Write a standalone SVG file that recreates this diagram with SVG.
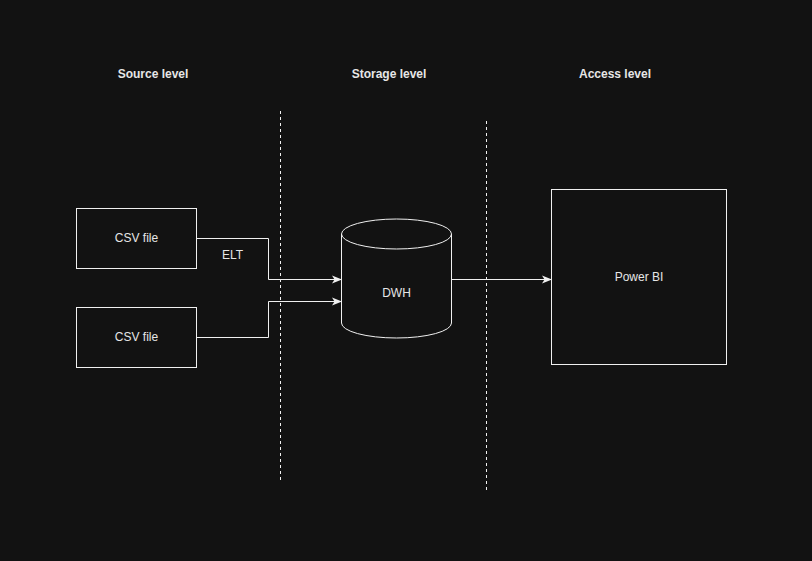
<svg xmlns="http://www.w3.org/2000/svg" width="812" height="561" viewBox="0 0 812 561">
<defs>
<style>
.n{fill:none;stroke:#f0f0f0;stroke-width:1}
.t{font-family:"Liberation Sans",Arial,sans-serif;font-size:12px;fill:#e6e6e6;text-anchor:middle}
.h{font-family:"Liberation Sans",Arial,sans-serif;font-size:12px;font-weight:bold;fill:#e6e6e6;text-anchor:middle}
.c{fill:none;stroke:#f0f0f0;stroke-width:1}
.d{fill:none;stroke:#f0f0f0;stroke-width:1;stroke-dasharray:3 3}
</style>
<marker id="arr" viewBox="0 0 10 10" refX="9" refY="5" markerWidth="10" markerHeight="10" markerUnits="userSpaceOnUse" orient="auto">
<path d="M0,1 L10,5 L0,9 L2.5,5 Z" fill="#f0f0f0"/>
</marker>
</defs>
<rect width="812" height="561" fill="#121212"/>
<g id="titles">
<text class="h" x="153" y="78">Source level</text>
<text class="h" x="389" y="78">Storage level</text>
<text class="h" x="615" y="78">Access level</text>
</g>
<g id="separators">
<line class="d" x1="280.5" y1="111" x2="280.5" y2="481"/>
<line class="d" x1="486.5" y1="121" x2="486.5" y2="491"/>
</g>
<g id="csv1">
<rect class="n" x="76.5" y="208.5" width="120" height="60"/>
<text class="t" x="136.5" y="242">CSV file</text>
</g>
<g id="csv2">
<rect class="n" x="76.5" y="307.5" width="120" height="60"/>
<text class="t" x="136.5" y="341">CSV file</text>
</g>
<g id="dwh">
<path class="n" d="M341.5,234 A55,15 0 0 1 451.5,234 L451.5,323 A55,15 0 0 1 341.5,323 Z"/>
<path class="n" d="M341.5,234 A55,15 0 0 0 451.5,234"/>
<text class="t" x="396.5" y="296.5">DWH</text>
</g>
<g id="powerbi">
<rect class="n" x="551.5" y="189.5" width="175" height="175"/>
<text class="t" x="639" y="280.5">Power BI</text>
</g>
<g id="connectors">
<path class="c" d="M196.5,238.5 H268.5 V279.5 H341" marker-end="url(#arr)"/>
<path class="c" d="M196.5,337.5 H268.5 V301.5 H341" marker-end="url(#arr)"/>
<path class="c" d="M451.5,279.5 H551" marker-end="url(#arr)"/>
<text class="t" x="232.5" y="259">ELT</text>
</g>
</svg>
